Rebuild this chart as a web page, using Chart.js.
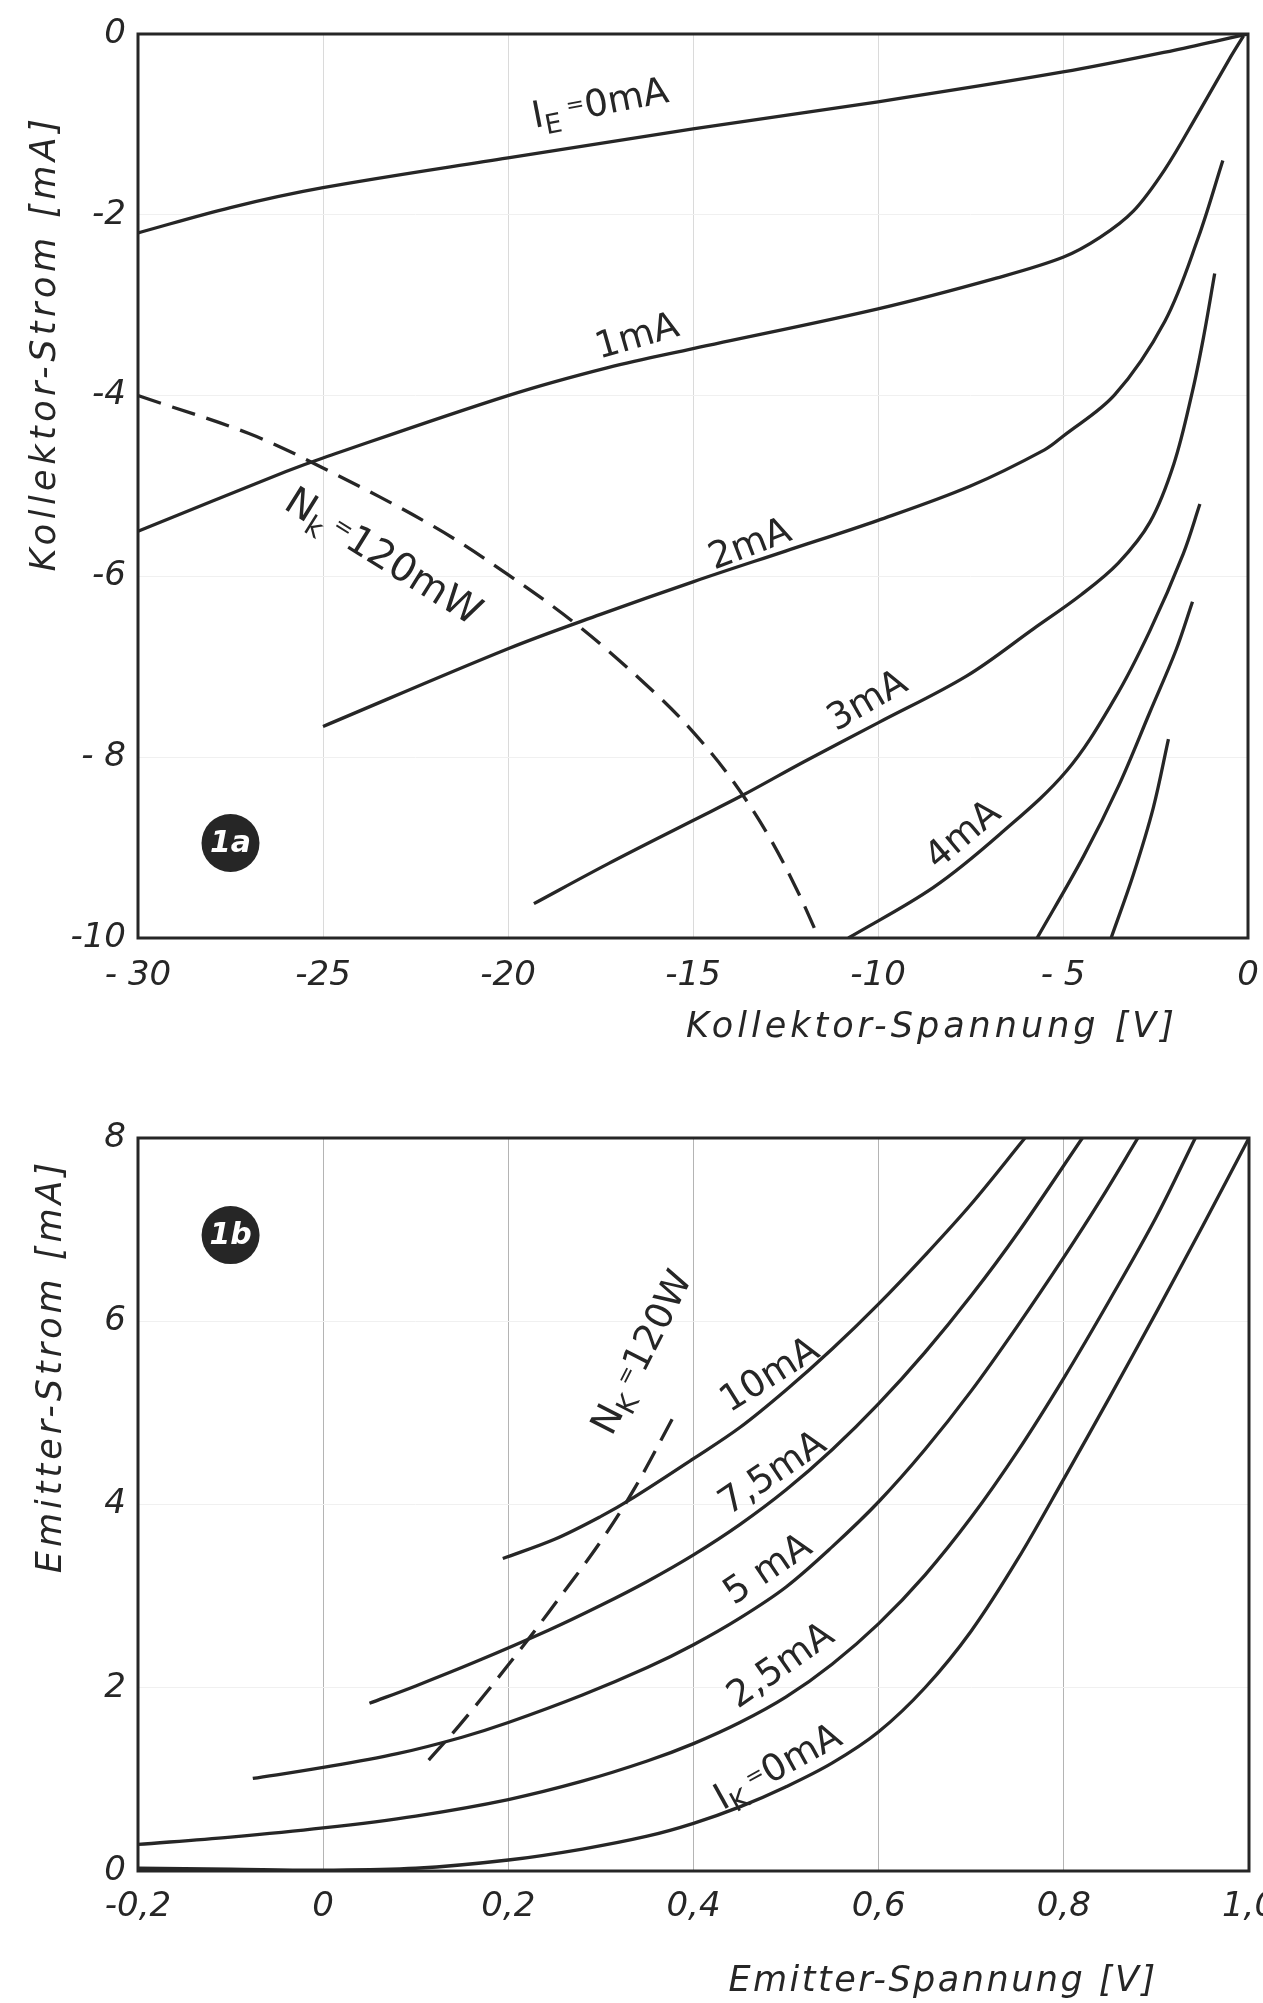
<!DOCTYPE html>
<html>
<head>
<meta charset="utf-8">
<script src="https://cdn.jsdelivr.net/npm/chart.js@4.4.1/dist/chart.umd.min.js"></script>
<style>
  html, body { margin: 0; padding: 0; background: #fff; }
  .box { position: absolute; left: 0; width: 1263px; }
</style>
</head>
<body>
<div class="box" style="top:0;height:1080px"><canvas id="c1" width="1263" height="1080"></canvas></div>
<div class="box" style="top:1080px;height:923px"><canvas id="c2" width="1263" height="923"></canvas></div>
<script>
// ---------- Bild 1a: Kollektor-Kennlinien (x = U_K in V, y = I_K in mA) ----------
const kIE0 = [[-30,-2.2],[-27.5,-1.92],[-25,-1.7],[-20,-1.37],[-17.5,-1.21],[-15,-1.05],[-10,-0.75],[-5,-0.42],[-2,-0.18],[0,0]];
const kIE1 = [[-30,-5.5],[-26,-4.84],[-25,-4.69],[-20,-4.0],[-17.3,-3.69],[-15,-3.48],[-10,-3.04],[-6.8,-2.7],[-5,-2.47],[-4,-2.25],[-3.1,-1.96],[-2.25,-1.5],[-1.35,-0.88],[-0.45,-0.24],[-0.12,-0.02]];
const kIE2 = [[-25,-7.66],[-20,-6.8],[-17.5,-6.42],[-15,-6.06],[-12.5,-5.72],[-10,-5.38],[-7.5,-5.0],[-5.5,-4.6],[-5,-4.45],[-3.6,-3.99],[-2.25,-3.18],[-1.35,-2.26],[-0.68,-1.4]];
const kIE3 = [[-19.3,-9.62],[-17.3,-9.18],[-15,-8.7],[-13.7,-8.43],[-12,-8.05],[-10,-7.62],[-7.6,-7.1],[-5.8,-6.58],[-4.5,-6.2],[-3.5,-5.85],[-2.65,-5.4],[-2.0,-4.75],[-1.5,-3.95],[-1.2,-3.35],[-0.9,-2.65]];
const kIE4 = [[-10.8,-10],[-8.5,-9.44],[-6.7,-8.85],[-4.9,-8.15],[-3.6,-7.35],[-2.65,-6.6],[-1.75,-5.75],[-1.3,-5.2]];
const kIE5 = [[-5.7,-10],[-4.45,-9.1],[-3.5,-8.32],[-2.65,-7.5],[-1.95,-6.82],[-1.5,-6.28]];
const kIE6 = [[-3.7,-10],[-3.1,-9.3],[-2.56,-8.56],[-2.15,-7.8]];
const kNk = [[-30,-4.0],[-27,-4.42],[-25,-4.8],[-22,-5.45],[-20,-5.98],[-18,-6.58],[-16,-7.3],[-15,-7.72],[-14,-8.22],[-13,-8.84],[-12.2,-9.46],[-11.6,-10]];

const kxTicks = [-30, -25, -20, -15, -10, -5, 0];
const kxLabels = ['- 30', '-25', '-20', '-15', '-10', '- 5', '0'];
const kyTicks = [-10, -8, -6, -4, -2, 0];
const kyLabels = ['-10', '- 8', '-6', '-4', '-2', '0'];

// ---------- Bild 1b: Emitter-Kennlinien (x = U_E in V, y = I_E in mA) ----------
const eIK0 = [[-0.2,0.03],[-0.1,0.02],[0,0.01],[0.1,0.03],[0.2,0.12],[0.28,0.24],[0.35,0.38],[0.4,0.52],[0.45,0.7],[0.5,0.92],[0.55,1.18],[0.6,1.52],[0.65,2.0],[0.7,2.62],[0.75,3.4],[0.8,4.28],[0.85,5.18],[0.9,6.1],[0.95,7.04],[1.0,8.0]];
const eIK25 = [[-0.2,0.29],[-0.1,0.37],[0,0.47],[0.1,0.6],[0.2,0.78],[0.28,0.98],[0.35,1.2],[0.4,1.39],[0.45,1.62],[0.5,1.9],[0.55,2.26],[0.6,2.7],[0.65,3.23],[0.7,3.86],[0.75,4.58],[0.8,5.38],[0.85,6.24],[0.9,7.14],[0.942,8.0]];
const eIK5 = [[-0.076,1.01],[0,1.13],[0.08,1.28],[0.15,1.46],[0.2,1.62],[0.28,1.92],[0.35,2.22],[0.4,2.47],[0.45,2.76],[0.5,3.1],[0.55,3.54],[0.6,4.03],[0.65,4.6],[0.7,5.24],[0.75,5.95],[0.8,6.7],[0.84,7.33],[0.88,8.0]];
const eIK75 = [[0.05,1.83],[0.1,2.02],[0.164,2.28],[0.244,2.63],[0.3,2.9],[0.35,3.16],[0.4,3.45],[0.45,3.78],[0.5,4.16],[0.55,4.6],[0.6,5.1],[0.65,5.66],[0.7,6.28],[0.75,6.96],[0.82,8.0]];
const eIK10 = [[0.194,3.41],[0.25,3.62],[0.3,3.87],[0.336,4.08],[0.4,4.5],[0.45,4.84],[0.5,5.25],[0.55,5.7],[0.6,6.19],[0.65,6.72],[0.7,7.28],[0.758,8.0]];
const eNk = [[0.114,1.21],[0.148,1.6],[0.2,2.25],[0.244,2.83],[0.3,3.6],[0.336,4.17],[0.378,4.95]];

const exTicks = [-0.2, 0, 0.2, 0.4, 0.6, 0.8, 1.0];
const exLabels = ['-0,2', '0', '0,2', '0,4', '0,6', '0,8', '1,0'];
const eyTicks = [0, 2, 4, 6, 8];
const eyLabels = ['0', '2', '4', '6', '8'];

const FONT = '"DejaVu Sans", sans-serif';
const INK = '#262626';

// text pieces: [text, size factor, vertical shift in em]
function richText(ctx, parts, size) {
  let w = 0;
  parts.forEach(p => { ctx.font = Math.round(size * p[1]) + 'px ' + FONT; w += ctx.measureText(p[0]).width; });
  let x = -w / 2;
  parts.forEach(p => {
    ctx.font = Math.round(size * p[1]) + 'px ' + FONT;
    ctx.fillText(p[0], x, p[2] * size);
    x += ctx.measureText(p[0]).width;
  });
}

function decor(name, cfg) {
  return {
    id: 'decor' + name,
    afterDraw(chart) {
      const ctx = chart.ctx, a = chart.chartArea, xs = chart.scales.x, ys = chart.scales.y;
      ctx.save();
      ctx.strokeStyle = INK;
      ctx.lineWidth = 3;
      ctx.strokeRect(a.left, a.top, a.right - a.left, a.bottom - a.top);

      ctx.fillStyle = INK;
      ctx.textBaseline = 'middle';
      ctx.textAlign = 'left';
      cfg.labels.forEach(l => {
        ctx.save();
        ctx.translate(xs.getPixelForValue(l.at[0]), ys.getPixelForValue(l.at[1]));
        ctx.rotate(l.rot * Math.PI / 180);
        richText(ctx, l.parts, l.size || 37);
        ctx.restore();
      });

      const bx = xs.getPixelForValue(cfg.badge.at[0]), by = ys.getPixelForValue(cfg.badge.at[1]);
      ctx.beginPath();
      ctx.arc(bx, by, 29, 0, Math.PI * 2);
      ctx.fill();
      ctx.fillStyle = '#fff';
      ctx.textAlign = 'center';
      ctx.font = 'italic bold 30px ' + FONT;
      ctx.fillText(cfg.badge.text, bx, by + 1);

      ctx.fillStyle = INK;
      ctx.font = 'italic 35px ' + FONT;
      ctx.letterSpacing = cfg.xTitle.gap + 'px';
      ctx.fillText(cfg.xTitle.text, cfg.xTitle.pos[0], cfg.xTitle.pos[1]);
      ctx.letterSpacing = cfg.yTitle.gap + 'px';
      ctx.translate(cfg.yTitle.pos[0], cfg.yTitle.pos[1]);
      ctx.rotate(-Math.PI / 2);
      ctx.fillText(cfg.yTitle.text, 0, 0);
      ctx.letterSpacing = '0px';
      ctx.restore();
    }
  };
}

function curve(pts, dashed) {
  return {
    data: pts.map(p => ({ x: p[0], y: p[1] })),
    showLine: true,
    borderColor: INK,
    borderWidth: 3.3,
    borderDash: dashed ? [24, 12] : [],
    pointRadius: 0,
    tension: 0.35,
    fill: false
  };
}

function axis(min, max, ticks, labels, pad, size, gridColor, horizontal) {
  return {
    type: 'linear', min: min, max: max,
    afterBuildTicks: s => { s.ticks = ticks.map(v => ({ value: v })); },
    afterFit: s => {
      if (horizontal) { s.height = size; s.paddingLeft = 0; s.paddingRight = 0; }
      else { s.width = size; s.paddingTop = 0; s.paddingBottom = 0; }
    },
    ticks: {
      callback: (v, i) => labels[i],
      autoSkip: false, maxRotation: 0,
      padding: pad, color: INK,
      font: { family: FONT, size: 34, style: 'italic' }
    },
    grid: { color: gridColor, lineWidth: 1, drawTicks: false },
    border: { display: false }
  };
}

function makeChart(id, datasets, scales, padding, plugin) {
  return new Chart(document.getElementById(id), {
    type: 'scatter',
    data: { datasets: datasets },
    options: {
      responsive: false,
      animation: false,
      devicePixelRatio: 1,
      layout: { padding: padding },
      plugins: { legend: { display: false }, tooltip: { enabled: false } },
      scales: scales
    },
    plugins: [plugin]
  });
}

makeChart('c1',
  [kIE0, kIE1, kIE2, kIE3, kIE4, kIE5, kIE6].map(c => curve(c, false)).concat([curve(kNk, true)]),
  {
    x: axis(-30, 0, kxTicks, kxLabels, 18, 142, '#dadada', true),
    y: axis(-10, 0, kyTicks, kyLabels, 12, 138, '#f0f0f0', false)
  },
  { top: 34, right: 15, left: 0, bottom: 0 },
  decor('1', {
    labels: [
      { parts: [['I', 1, 0], ['E', 0.72, 0.3], [' =', 0.6, -0.12], ['0mA', 1, 0]], at: [-17.5, -0.79], rot: -11 },
      { parts: [['1mA', 1, 0]], at: [-16.5, -3.36], rot: -16 },
      { parts: [['2mA', 1, 0]], at: [-13.45, -5.66], rot: -21 },
      { parts: [['3mA', 1, 0]], at: [-10.27, -7.39], rot: -30 },
      { parts: [['4mA', 1, 0]], at: [-7.68, -8.87], rot: -40 },
      { parts: [['N', 1, 0], ['k', 0.72, 0.3], [' =', 0.6, -0.12], ['120mW', 1, 0]], at: [-23.4, -5.8], rot: 32, size: 39 }
    ],
    badge: { text: '1a', at: [-27.5, -8.95] },
    xTitle: { text: 'Kollektor-Spannung [V]', pos: [932, 1028], gap: 4 },
    yTitle: { text: 'Kollektor-Strom [mA]', pos: [46, 343], gap: 4.5 }
  })
);

makeChart('c2',
  [eIK0, eIK25, eIK5, eIK75, eIK10].map(c => curve(c, false)).concat([curve(eNk, true)]),
  {
    x: axis(-0.2, 1.0, exTicks, exLabels, 16, 132, '#b4b4b4', true),
    y: axis(0, 8, eyTicks, eyLabels, 12, 138, '#f0f0f0', false)
  },
  { top: 58, right: 14, left: 0, bottom: 0 },
  decor('2', {
    labels: [
      { parts: [['10mA', 1, 0]], at: [0.483, 5.4], rot: -32 },
      { parts: [['7,5mA', 1, 0]], at: [0.486, 4.33], rot: -34 },
      { parts: [['5 mA', 1, 0]], at: [0.481, 3.28], rot: -34 },
      { parts: [['2,5mA', 1, 0]], at: [0.495, 2.23], rot: -35 },
      { parts: [['I', 1, 0], ['K', 0.72, 0.3], [' =', 0.6, -0.12], ['0mA', 1, 0]], at: [0.492, 1.12], rot: -29 },
      { parts: [['N', 1, 0], ['K', 0.72, 0.3], [' =', 0.6, -0.12], ['120W', 1, 0]], at: [0.346, 5.65], rot: -63 }
    ],
    badge: { text: '1b', at: [-0.1, 6.94] },
    xTitle: { text: 'Emitter-Spannung [V]', pos: [943, 902], gap: 2.5 },
    yTitle: { text: 'Emitter-Strom [mA]', pos: [52, 286], gap: 4 }
  })
);
</script>
</body>
</html>
